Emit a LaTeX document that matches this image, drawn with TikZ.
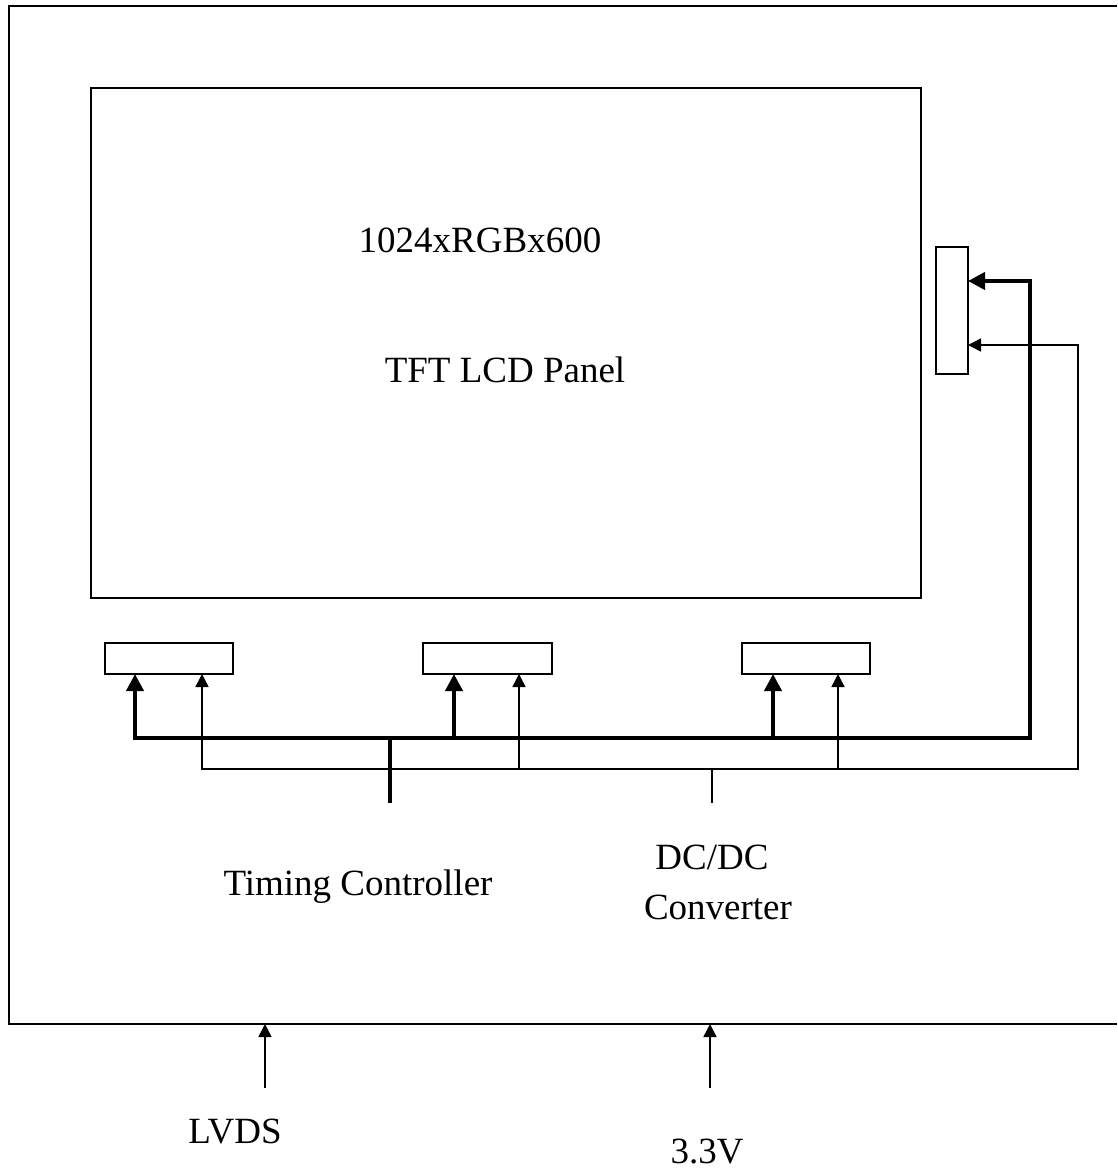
\documentclass[tikz,border=0pt]{standalone}
\usepackage{fontspec}
\setmainfont{Liberation Serif}
\usepackage{tikz}
\usetikzlibrary{arrows.meta}

\tikzset{
  box/.style={draw, line width=1.5pt, inner sep=0pt, outer sep=0pt},
  bus/.style={line width=4pt},
  wire/.style={line width=1.5pt},
  bushead/.style={-{Triangle[length=17pt,width=17pt]}},
  wirehead/.style={-{Triangle[length=13pt,width=13pt]}},
  busboth/.style={{Triangle[length=17pt,width=17pt]}-{Triangle[length=17pt,width=17pt]}},
  wireboth/.style={{Triangle[length=13pt,width=13pt]}-{Triangle[length=13pt,width=13pt]}},
  lbl/.style={font=\fontsize{37}{44}\selectfont, inner sep=0pt, anchor=base}
}

\begin{document}
\begin{tikzpicture}[x=1pt,y=-1pt]
        \useasboundingbox (0,0) rectangle (1117,1173);

        % frame (runs off the right edge)
        \coordinate (frameTR) at (1117,6);
        \coordinate (frameTL) at (9,6);
        \coordinate (frameBL) at (9,1024);
        \coordinate (frameBR) at (1117,1024);
        \draw[line width=2pt] (frameTR) -- (frameTL) -- (frameBL) -- (frameBR);

        % panel and source boards
        \node[box, minimum width=830pt, minimum height=510pt] (panel) at (506,343) {};
        \node[box, minimum width=32pt, minimum height=127pt] (srcR) at (952,310.5) {};
        \node[box, minimum width=128pt, minimum height=31pt] (src1) at (169,658.5) {};
        \node[box, minimum width=129pt, minimum height=31pt] (src2) at (487.5,658.5) {};
        \node[box, minimum width=128pt, minimum height=31pt] (src3) at (806,658.5) {};

        \node[lbl] (res) at (480,252) {1024xRGBx600};
        \node[lbl] (name) at (505,382) {TFT LCD Panel};

        % bus points
        \coordinate (ta1) at (135,738);
        \coordinate (ta2) at (454,738);
        \coordinate (ta3) at (773,738);
        \coordinate (busR) at (1030,738);
        \coordinate (busT) at (1030,281);

        \coordinate (pa1) at (202,769);
        \coordinate (pa2) at (519,769);
        \coordinate (pa3) at (838,769);
        \coordinate (pwrR) at (1078,769);
        \coordinate (pwrT) at (1078,345);

        \coordinate (tcon) at (390,803);
        \coordinate (dcdc) at (712,803);

        % timing controller bus
        \draw[bus,busboth] (ta1 |- src1.south) -- (ta1) -- (busR) -- (busT) -- (srcR.east |- busT);
        \draw[bus,bushead] (ta2) -- (ta2 |- src2.south);
        \draw[bus,bushead] (ta3) -- (ta3 |- src3.south);
        \draw[bus] (tcon) -- (tcon |- ta1);

        % dc/dc supply
        \draw[wire,wireboth] (pa1 |- src1.south) -- (pa1) -- (pwrR) -- (pwrT) -- (srcR.east |- pwrT);
        \draw[wire,wirehead] (pa2) -- (pa2 |- src2.south);
        \draw[wire,wirehead] (pa3) -- (pa3 |- src3.south);
        \draw[wire] (dcdc) -- (dcdc |- pa1);

        \node[lbl] (tclbl) at (358,895) {Timing Controller};
        \node[lbl] (dclbl) at (712,869) {DC/DC};
        \node[lbl] (cvlbl) at (718,919) {Converter};

        % inputs
        \coordinate (lvdsIn) at (265,1088);
        \coordinate (vccIn) at (710,1088);
        \draw[wire,wirehead] (lvdsIn) -- (lvdsIn |- frameBL);
        \draw[wire,wirehead] (vccIn) -- (vccIn |- frameBL);

        \node[lbl] (lvds) at (235,1143) {LVDS};
        \node[lbl] (vcc) at (707,1163) {3.3V};
\end{tikzpicture}
\end{document}
